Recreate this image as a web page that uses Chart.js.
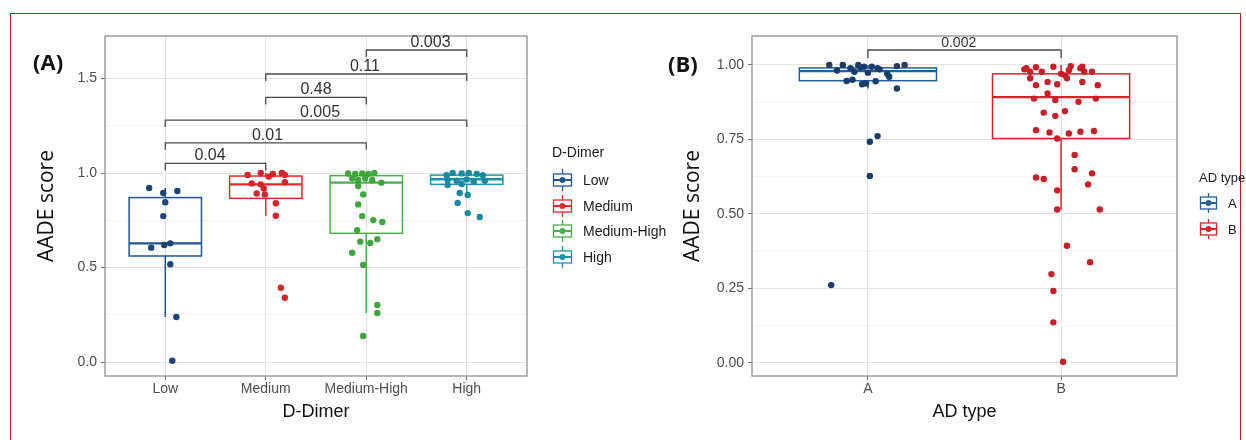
<!DOCTYPE html>
<html>
<head>
<meta charset="utf-8">
<script src="https://cdn.jsdelivr.net/npm/chart.js@4.4.1/dist/chart.umd.min.js"></script>
<style>
    html, body { margin: 0; padding: 0; background: #fff; }
    #hoja { position: relative; width: 1246px; height: 440px; overflow: hidden; font-family: "Liberation Sans", Arial, sans-serif; }
    .marco { position: absolute; left: 10px; top: 13px; width: 1231px; height: 460px; border: 1.5px solid #a3262a; box-sizing: border-box; }
    canvas { position: absolute; top: 0; }
    .letra { position: absolute; font-family: "Open Sans", sans-serif; font-weight: 700; font-size: 22px; line-height: 22px; color: #111; }
    .ley-tit { position: absolute; color: #1a1a1a; line-height: 1; }
    .ley-item { position: absolute; display: flex; align-items: center; color: #1a1a1a; line-height: 1; }
    .ley-item svg { margin-right: 10px; }
</style>
</head>
<body>
<div id="hoja">
    <div class="marco"></div>
    <canvas id="panelA" width="640" height="440" style="left:0"></canvas>
    <canvas id="panelB" width="606" height="440" style="left:640px"></canvas>
    <div class="letra" style="left:33px; top:50px">(A)</div>
    <div class="letra" style="left:668px; top:52px">(B)</div>
    <div id="leyendaA"></div>
    <div id="leyendaB"></div>
</div>
<script>
// ---- Panel A: D-Dimer ----
const gruposA = ["Low", "Medium", "Medium-High", "High"];
const coloresA = ["#1f5596", "#de2a2d", "#49ad48", "#1b93ad"];
const puntosA = ["#1c4478", "#d8232a", "#3fa53f", "#178aa2"];

const lowVal = [0.921, 0.894, 0.905, 0.845, 0.772, 0.605, 0.619, 0.628, 0.517, 0.238, 0.007];
const lowJit = [-0.16, -0.02, 0.12, 0.0, -0.02, -0.14, -0.01, 0.05, 0.05, 0.11, 0.07];
const medVal = [1.0, 1.0, 0.995, 0.99, 0.99, 0.981, 0.951, 0.945, 0.94, 0.918, 0.892, 0.887, 0.84, 0.774, 0.393, 0.34];
const medJit = [-0.05, 0.16, 0.07, -0.18, 0.19, 0.03, 0.19, -0.14, -0.05, -0.02, -0.09, -0.01, 0.1, 0.1, 0.15, 0.19];
const mhVal = [0.998, 0.995, 0.998, 0.995, 1.0, 0.972, 0.963, 0.972, 0.963, 0.949, 0.931, 0.887, 0.834, 0.772, 0.751, 0.741, 0.698, 0.637, 0.63, 0.65, 0.578, 0.513, 0.302, 0.259, 0.138];
const mhJit = [-0.18, -0.11, -0.04, 0.02, 0.08, -0.14, -0.08, -0.01, 0.06, 0.15, -0.08, -0.03, -0.08, -0.04, 0.07, 0.16, -0.09, -0.06, 0.04, 0.11, -0.14, -0.03, 0.11, 0.11, -0.03];
const highVal = [0.989, 1.0, 0.998, 1.0, 0.995, 0.989, 0.963, 0.959, 0.966, 0.954, 0.959, 0.937, 0.942, 0.894, 0.884, 0.841, 0.788, 0.767];
const highJit = [-0.2, -0.14, -0.05, 0.02, 0.1, 0.16, -0.19, -0.1, 0.0, 0.07, 0.18, -0.19, -0.05, -0.07, 0.01, -0.09, 0.01, 0.13];

const q1A = [0.561, 0.866, 0.681, 0.94];
const medianaA = [0.628, 0.94, 0.949, 0.967];
const q3A = [0.87, 0.984, 0.986, 0.989];
const bigoteInfA = [0.238, 0.774, 0.259, 0.884];
const bigoteSupA = [0.921, 1.0, 1.0, 1.0];

const yTicksA = [0, 0.25, 0.5, 0.75, 1.0, 1.25, 1.5];
const yEtiqA = ["0.0", "", "0.5", "", "1.0", "", "1.5"];

const llaveDeA = [1, 1, 1, 2, 2, 3];
const llaveHastaA = [2, 3, 4, 3, 4, 4];
const llaveYA = [1.051, 1.16, 1.28, 1.4, 1.524, 1.651];
const llaveTxtA = ["0.04", "0.01", "0.005", "0.48", "0.11", "0.003"];
const llaveXTxtA = [1.445, 2.017, 2.54, 2.5, 2.987, 3.64];

// ---- Panel B: AD type ----
const gruposB = ["A", "B"];
const coloresB = ["#2160a0", "#d3252b"];
const puntosB = ["#173d6e", "#c81e28"];

const aVal = [1.0, 1.0, 0.989, 1.0, 0.994, 0.994, 0.989, 0.981, 0.977, 0.974, 0.97, 0.996, 1.0, 0.96, 0.946, 0.95, 0.935, 0.938, 0.945, 0.921, 0.985, 0.992, 0.761, 0.742, 0.627, 0.261];
const aJit = [-0.2, -0.13, -0.09, -0.05, -0.02, 0.02, 0.05, -0.16, -0.07, 0.0, 0.1, 0.15, 0.19, 0.11, -0.11, -0.08, -0.03, -0.01, 0.04, 0.15, 0.06, -0.04, 0.05, 0.01, 0.01, -0.19];
const bVal = [0.985, 0.989, 0.977, 0.977, 0.992, 0.994, 0.982, 0.996, 0.994, 0.977, 0.977, 0.965, 0.97, 0.989, 0.955, 0.955, 0.932, 0.943, 0.935, 0.943, 0.932, 0.887, 0.904, 0.882, 0.876, 0.887, 0.84, 0.829, 0.845, 0.781, 0.773, 0.77, 0.776, 0.778, 0.753, 0.698, 0.65, 0.636, 0.622, 0.617, 0.599, 0.579, 0.515, 0.515, 0.393, 0.338, 0.298, 0.241, 0.136, 0.004];
const bJit = [-0.19, -0.18, -0.16, -0.1, -0.13, -0.04, 0.04, 0.05, 0.11, 0.12, 0.16, 0.02, 0.0, 0.1, -0.16, 0.03, -0.13, -0.07, -0.02, 0.11, 0.19, -0.14, -0.07, -0.03, 0.09, 0.18, -0.09, -0.03, 0.02, -0.13, -0.06, 0.04, 0.1, 0.17, -0.02, 0.07, 0.07, 0.16, -0.13, -0.09, 0.14, -0.02, -0.02, 0.2, 0.03, 0.15, -0.05, -0.04, -0.04, 0.01];

const q1B = [0.947, 0.753];
const medianaB = [0.979, 0.892];
const q3B = [0.99, 0.97];
const bigoteInfB = [0.921, 0.515];
const bigoteSupB = [1.0, 1.0];

const yTicksB = [0, 0.125, 0.25, 0.375, 0.5, 0.625, 0.75, 0.875, 1.0];
const yEtiqB = ["0.00", "", "0.25", "", "0.50", "", "0.75", "", "1.00"];

const llaveDeB = [1];
const llaveHastaB = [2];
const llaveYB = [1.05];
const llaveTxtB = ["0.002"];
const llaveXTxtB = [1.47];

const GRIS_MAYOR = "#e2e2e2";
const GRIS_MENOR = "#f2f2f2";

const cajas = {
    id: "cajas",
    beforeDatasetsDraw(chart, args, op) {
        const { ctx, scales: { x, y } } = chart;
        const py = (v) => y.getPixelForValue(v);
        op.q1.forEach((q1, i) => {
            const c = x.getPixelForValue(i + 1);
            const x0 = x.getPixelForValue(i + 1 - op.ancho / 2);
            const x1 = x.getPixelForValue(i + 1 + op.ancho / 2);
            ctx.save();
            ctx.strokeStyle = op.colores[i];
            ctx.lineWidth = 1.5;
            ctx.beginPath();
            ctx.moveTo(c, py(op.sup[i])); ctx.lineTo(c, py(op.q3[i]));
            ctx.moveTo(c, py(q1)); ctx.lineTo(c, py(op.inf[i]));
            ctx.stroke();
            ctx.strokeRect(x0, py(op.q3[i]), x1 - x0, py(q1) - py(op.q3[i]));
            ctx.lineWidth = 2.4;
            ctx.beginPath();
            ctx.moveTo(x0, py(op.mediana[i])); ctx.lineTo(x1, py(op.mediana[i]));
            ctx.stroke();
            ctx.restore();
        });
    },
};

const marcoYllaves = {
    id: "marcoYllaves",
    afterDatasetsDraw(chart, args, op) {
        const { ctx, chartArea: a, scales: { x, y } } = chart;
        ctx.save();
        ctx.strokeStyle = "#8f8f8f";
        ctx.lineWidth = 1.3;
        ctx.strokeRect(a.left, a.top, a.right - a.left, a.bottom - a.top);
        ctx.strokeStyle = "#4a4a4a";
        ctx.lineWidth = 1.3;
        ctx.fillStyle = "#333";
        ctx.font = op.fuente;
        ctx.textAlign = "center";
        ctx.textBaseline = "alphabetic";
        op.de.forEach((d, i) => {
            const x0 = x.getPixelForValue(d), x1 = x.getPixelForValue(op.hasta[i]);
            const yy = y.getPixelForValue(op.y[i]);
            ctx.beginPath();
            ctx.moveTo(x0, yy + op.pata); ctx.lineTo(x0, yy);
            ctx.lineTo(x1, yy); ctx.lineTo(x1, yy + op.pata);
            ctx.stroke();
            ctx.fillText(op.txt[i], x.getPixelForValue(op.xTxt[i]), yy - 3);
        });
        ctx.restore();
    },
};

function puntos(vals, jits, cat) {
    return vals.map((v, i) => ({ x: cat + jits[i], y: v }));
}

function panel(idCanvas, c) {
    return new Chart(document.getElementById(idCanvas), {
        type: "scatter",
        data: {
            datasets: c.series.map((s, i) => ({
                data: s, backgroundColor: c.puntos[i], borderWidth: 0, pointRadius: 3.2, pointHoverRadius: 3.2,
            })),
        },
        options: {
            responsive: false, animation: false, devicePixelRatio: 1,
            layout: { padding: c.relleno },
            plugins: { legend: { display: false }, tooltip: { enabled: false }, cajas: c.cajas, marcoYllaves: c.llaves },
            scales: {
                x: {
                    type: "linear", min: 0.4, max: c.grupos.length + 0.6,
                    afterBuildTicks: (s) => { s.ticks = c.grupos.map((g, i) => ({ value: i + 1 })); },
                    afterFit: (s) => { s.height = 51; },
                    ticks: { callback: (v) => c.grupos[Math.round(v) - 1], color: "#4d4d4d", font: { size: 14 }, padding: 1, autoSkip: false, maxRotation: 0 },
                    grid: { color: GRIS_MAYOR, tickColor: "#777", tickLength: 4 },
                    border: { display: false },
                    title: { display: true, text: c.tituloX, color: "#111", font: { size: 18 }, padding: { top: 0, bottom: 4 } },
                },
                y: {
                    type: "linear", min: c.yMin, max: c.yMax,
                    afterBuildTicks: (s) => { s.ticks = c.yTicks.map((v) => ({ value: v })); },
                    afterFit: (s) => { s.width = c.anchoY; },
                    ticks: { callback: (v, i) => c.yEtiq[i], color: "#4d4d4d", font: { size: 14 }, padding: 4, autoSkip: false },
                    grid: {
                        color: (ctx) => (c.yEtiq[ctx.index] ? GRIS_MAYOR : GRIS_MENOR),
                        tickColor: (ctx) => (c.yEtiq[ctx.index] ? "#777" : "rgba(0,0,0,0)"),
                        tickLength: 4,
                    },
                    border: { display: false },
                    title: { display: true, text: "AADE score", color: "#111", font: { family: "'Open Sans', sans-serif", size: 21 }, padding: { top: 4, bottom: 0 } },
                },
            },
        },
        plugins: [cajas, marcoYllaves],
    });
}

function llaveSvg(color, w, h) {
    const m = w / 2, cy = h / 2;
    return `<svg width="${w}" height="${h}"><line x1="${m}" y1="0" x2="${m}" y2="${h}" stroke="${color}" stroke-width="1.3"/>` +
        `<rect x="1.5" y="${cy - 6}" width="${w - 3}" height="12" fill="#fff" stroke="${color}" stroke-width="1.3"/>` +
        `<line x1="1.5" y1="${cy}" x2="${w - 1.5}" y2="${cy}" stroke="${color}" stroke-width="2"/>` +
        `<circle cx="${m}" cy="${cy}" r="3" fill="${color}"/></svg>`;
}

function leyenda(idCont, titulo, grupos, colores, pos) {
    let html = `<div class="ley-tit" style="left:${pos.x}px; top:${pos.yTit}px; font-size:${pos.fuente}px">${titulo}</div>`;
    grupos.forEach((g, i) => {
        const top = pos.y0 + i * pos.paso - pos.alto / 2;
        html += `<div class="ley-item" style="left:${pos.x}px; top:${top}px; font-size:${pos.fuente}px">` +
            llaveSvg(colores[i], pos.ancho, pos.alto) + `<span>${g}</span></div>`;
    });
    document.getElementById(idCont).innerHTML = html;
}

panel("panelA", {
    grupos: gruposA, puntos: puntosA, tituloX: "D-Dimer",
    series: [puntos(lowVal, lowJit, 1), puntos(medVal, medJit, 2), puntos(mhVal, mhJit, 3), puntos(highVal, highJit, 4)],
    yMin: -0.074, yMax: 1.725, yTicks: yTicksA, yEtiq: yEtiqA, anchoY: 75,
    relleno: { left: 30, top: 36, right: 113, bottom: 13 },
    cajas: { ancho: 0.72, colores: coloresA, q1: q1A, mediana: medianaA, q3: q3A, inf: bigoteInfA, sup: bigoteSupA },
    llaves: { de: llaveDeA, hasta: llaveHastaA, y: llaveYA, txt: llaveTxtA, xTxt: llaveXTxtA, pata: 7, fuente: "16px 'Liberation Sans', Arial, sans-serif" },
});

panel("panelB", {
    grupos: gruposB, puntos: puntosB, tituloX: "AD type",
    series: [puntos(aVal, aJit, 1), puntos(bVal, bJit, 2)],
    yMin: -0.044, yMax: 1.097, yTicks: yTicksB, yEtiq: yEtiqB, anchoY: 76,
    relleno: { left: 36, top: 36, right: 69, bottom: 13 },
    cajas: { ancho: 0.71, colores: coloresB, q1: q1B, mediana: medianaB, q3: q3B, inf: bigoteInfB, sup: bigoteSupB },
    llaves: { de: llaveDeB, hasta: llaveHastaB, y: llaveYB, txt: llaveTxtB, xTxt: llaveXTxtB, pata: 8, fuente: "14px 'Liberation Sans', Arial, sans-serif" },
});

leyenda("leyendaA", "D-Dimer", gruposA, coloresA, { x: 552, yTit: 145, y0: 180, paso: 25.5, ancho: 21, alto: 22, fuente: 14 });
leyenda("leyendaB", "AD type", gruposB, coloresB, { x: 1199, yTit: 171, y0: 203, paso: 26, ancho: 19, alto: 20, fuente: 13 });
</script>
</body>
</html>
